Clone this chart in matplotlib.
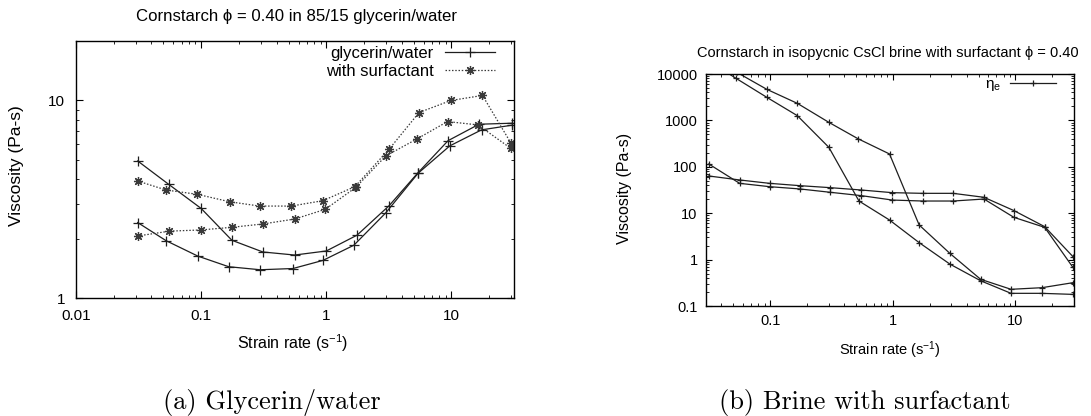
import matplotlib
matplotlib.use('Agg')
import matplotlib.pyplot as plt
from matplotlib.ticker import FixedLocator, LogLocator, NullFormatter, FixedFormatter

# ---------------- data: (a) glycerin/water ----------------
gw_a_x = [0.0311, 0.0551, 0.100, 0.176, 0.311, 0.558, 1.00, 1.76, 3.17, 5.41, 9.4, 16.6, 30.2]
gw_a_y = [4.94, 3.76, 2.84, 1.96, 1.71, 1.65, 1.73, 2.08, 2.93, 4.31, 6.26, 7.58, 7.67]
gw_b_x = [0.0311, 0.0525, 0.094, 0.166, 0.296, 0.541, 0.94, 1.66, 2.99, 5.41, 9.7, 17.4, 30.2]
gw_b_y = [2.41, 1.95, 1.63, 1.44, 1.39, 1.41, 1.55, 1.85, 2.70, 4.28, 5.89, 7.10, 7.49]
sf_c_x = [0.0311, 0.0525, 0.093, 0.169, 0.293, 0.525, 0.94, 1.69, 3.17, 5.51, 9.9, 17.7, 29.7]
sf_c_y = [3.91, 3.52, 3.35, 3.07, 2.92, 2.92, 3.11, 3.66, 5.66, 8.69, 10.0, 10.6, 6.12]
sf_d_x = [0.0311, 0.0558, 0.099, 0.176, 0.311, 0.558, 0.98, 1.72, 2.99, 5.31, 9.3, 16.3, 29.7]
sf_d_y = [2.06, 2.18, 2.21, 2.28, 2.37, 2.51, 2.81, 3.63, 5.24, 6.39, 7.82, 7.52, 5.73]

# ---------------- data: (b) brine with surfactant ----------------
br1_x = [0.0537, 0.094, 0.1666, 0.301, 0.52, 0.94, 1.64, 2.92, 5.2, 9.2, 16.4, 29.4]
br1_y = [10800, 4670, 2330, 908, 403, 189, 5.57, 1.36, 0.376, 0.229, 0.248, 0.318]
br2_x = [0.0316, 0.0527, 0.094, 0.1666, 0.301, 0.53, 0.94, 1.64, 2.92, 5.2, 9.2, 16.4, 29.4]
br2_y = [19000, 8070, 3140, 1265, 263, 18.3, 7.13, 2.32, 0.80, 0.35, 0.1875, 0.1875, 0.178]
br3_x = [0.0316, 0.0564, 0.099, 0.175, 0.31, 0.554, 0.99, 1.75, 3.1, 5.54, 9.7, 17.3, 29.4]
br3_y = [115, 44, 37.3, 33.3, 28.2, 23.9, 19.2, 18.3, 18.3, 20.2, 8.15, 4.95, 0.68]
br4_x = [0.0316, 0.0564, 0.099, 0.175, 0.31, 0.554, 0.99, 1.75, 3.1, 5.54, 9.7, 17.3, 29.4]
br4_y = [63.4, 52, 44, 39.2, 35.5, 31.6, 27.7, 26.8, 26.8, 22, 11.4, 5.13, 1.16]

left_xticks = [0.01, 0.1, 1, 10]
left_xlabels = ['0.01', '0.1', '1', '10']
left_yticks = [1, 10]
left_ylabels = ['1', '10']
right_xticks = [0.1, 1, 10]
right_xlabels = ['0.1', '1', '10']
right_yticks = [0.1, 1, 10, 100, 1000, 10000]
right_ylabels = ['0.1', '1', '10', '100', '1000', '10000']

plt.rcParams['font.family'] = ['Liberation Sans', 'DejaVu Sans']
plt.rcParams['mathtext.fontset'] = 'custom'
plt.rcParams['mathtext.rm'] = 'Liberation Sans'
plt.rcParams['mathtext.it'] = 'Liberation Sans'
plt.rcParams['mathtext.default'] = 'regular'

W, H = 1091, 416
fig = plt.figure(figsize=(W / 100, H / 100), dpi=100)


def axbox(l, t, r, b):
    return [l / W, 1 - b / H, (r - l) / W, (b - t) / H]


axL = fig.add_axes(axbox(76, 41, 514, 298))
axR = fig.add_axes(axbox(706, 74, 1074, 306))

LC = '#1e1e1e'

# ---- left panel ----
h1, = axL.plot(gw_a_x, gw_a_y, '-', color=LC, lw=0.9, marker='+', ms=7, mew=0.9,
               label='glycerin/water')
axL.plot(gw_b_x, gw_b_y, '-', color=LC, lw=0.9, marker='+', ms=7, mew=0.9)
h2, = axL.plot(sf_c_x, sf_c_y, linestyle=(0, (1.2, 1.4)), color='#3a3a3a', lw=0.9,
               marker=(8, 2, 0), ms=6.5, mew=0.9, label='with surfactant')
axL.plot(sf_d_x, sf_d_y, linestyle=(0, (1.2, 1.4)), color='#3a3a3a', lw=0.9,
         marker=(8, 2, 0), ms=6.5, mew=0.9)

axL.set_xscale('log')
axL.set_yscale('log')
axL.set_xlim(0.01, 31.6)
axL.set_ylim(1, 20)
axL.xaxis.set_major_locator(FixedLocator(left_xticks))
axL.xaxis.set_major_formatter(FixedFormatter(left_xlabels))
axL.yaxis.set_major_locator(FixedLocator(left_yticks))
axL.yaxis.set_major_formatter(FixedFormatter(left_ylabels))
for a in (axL.xaxis, axL.yaxis):
    a.set_minor_locator(LogLocator(base=10, subs=range(2, 10), numticks=20))
    a.set_minor_formatter(NullFormatter())
axL.tick_params(which='both', direction='in', top=True, right=True, labelsize=11)
axL.tick_params(which='major', length=5, width=0.8)
axL.tick_params(which='minor', length=2.5, width=0.6)
axL.tick_params(axis='x', which='major', pad=8)
axL.tick_params(axis='y', which='major', pad=8)
for s in axL.spines.values():
    s.set_linewidth(1.0)

legL = axL.legend(handles=[h1, h2], loc='upper right', bbox_to_anchor=(0.957, 0.98),
                  markerfirst=False, frameon=False, fontsize=12, handlelength=3.0,
                  handletextpad=0.7, labelspacing=0.15, borderpad=0, borderaxespad=0)

fig.text(296 / W, 1 - 17 / H, 'Cornstarch ϕ = 0.40 in 85/15 glycerin/water',
         ha='center', va='center', fontsize=12.1)
fig.text(293 / W, 1 - 343 / H, 'Strain rate (s$^{-1}$)', ha='center', va='center',
         fontsize=11.5)
fig.text(17 / W, 1 - 166 / H, 'Viscosity (Pa-s)', ha='center', va='center',
         rotation=90, fontsize=12.5)

# ---- right panel ----
fsR = 10.5
for xs, ys in ((br3_x, br3_y), (br4_x, br4_y), (br1_x, br1_y)):
    axR.plot(xs, ys, '-', color=LC, lw=0.9, marker='+', ms=5, mew=0.9)
hR, = axR.plot(br2_x, br2_y, '-', color=LC, lw=0.9, marker='+', ms=5, mew=0.9,
               label=r'$\eta_{e}$')
axR.set_xscale('log')
axR.set_yscale('log')
axR.set_xlim(0.03, 30)
axR.set_ylim(0.1, 10000)
axR.xaxis.set_major_locator(FixedLocator(right_xticks))
axR.xaxis.set_major_formatter(FixedFormatter(right_xlabels))
axR.yaxis.set_major_locator(FixedLocator(right_yticks))
axR.yaxis.set_major_formatter(FixedFormatter(right_ylabels))
for a in (axR.xaxis, axR.yaxis):
    a.set_minor_locator(LogLocator(base=10, subs=range(2, 10), numticks=20))
    a.set_minor_formatter(NullFormatter())
axR.tick_params(which='both', direction='in', top=True, right=True, labelsize=fsR)
axR.tick_params(which='major', length=4.5, width=0.8)
axR.tick_params(which='minor', length=2.2, width=0.6)
axR.tick_params(axis='x', which='major', pad=6)
axR.tick_params(axis='y', which='major', pad=6)
for s in axR.spines.values():
    s.set_linewidth(1.0)

legR = axR.legend(handles=[hR], loc='upper right', bbox_to_anchor=(0.951, 0.985),
                  markerfirst=False, frameon=False, fontsize=fsR + 0.5, handlelength=3.0,
                  handletextpad=0.6, borderpad=0, borderaxespad=0)

fig.text(888 / W, 1 - 53 / H, 'Cornstarch in isopycnic CsCl brine with surfactant ϕ = 0.40',
         ha='center', va='center', fontsize=fsR)
fig.text(890 / W, 1 - 350 / H, 'Strain rate (s$^{-1}$)', ha='center', va='center',
         fontsize=fsR)
fig.text(624 / W, 1 - 188 / H, 'Viscosity (Pa-s)', ha='center', va='center',
         rotation=90, fontsize=11.5)

# ---- captions ----
fig.text(272 / W, 1 - 402 / H, '(a) Glycerin/water', ha='center', va='center',
         fontsize=19, family='cmr10')
fig.text(865 / W, 1 - 402 / H, '(b) Brine with surfactant', ha='center', va='center',
         fontsize=19, family='cmr10')

fig.savefig('out.png', dpi=100)
